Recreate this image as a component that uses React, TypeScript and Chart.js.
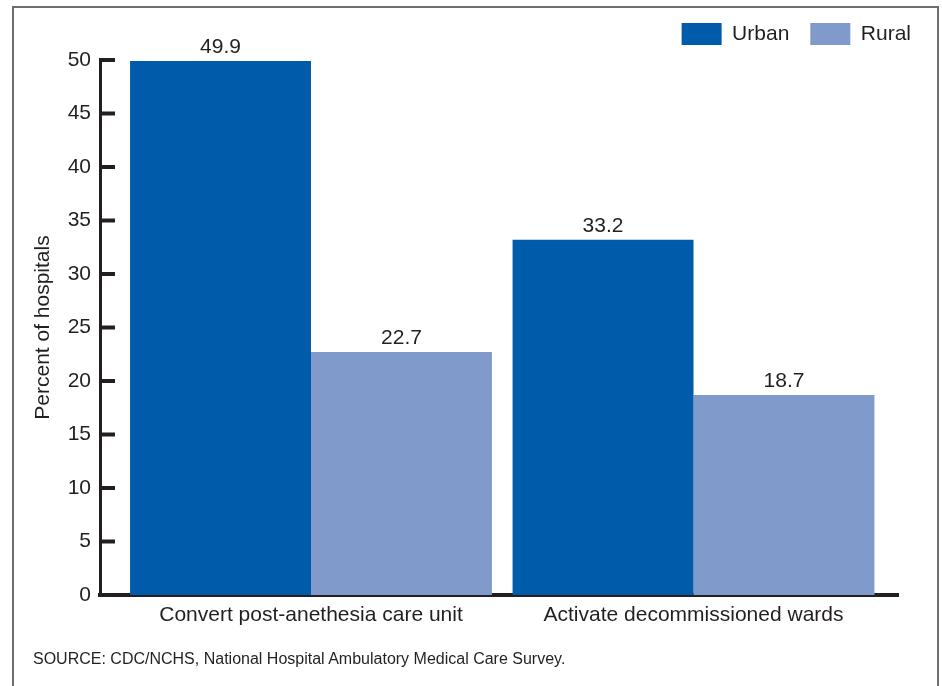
import { useEffect, useRef } from "react";
import { Chart, registerables } from "chart.js";

Chart.register(...registerables);

// ---- data ----
const categories = ["Convert post-anethesia care unit", "Activate decommissioned wards"];
const seriesNames = ["Urban", "Rural"];
const urbanValues = [49.9, 33.2];
const ruralValues = [22.7, 18.7];
const yTickValues = [0, 5, 10, 15, 20, 25, 30, 35, 40, 45, 50];
const yAxisTitle = "Percent of hospitals";
const sourceNote = "SOURCE: CDC/NCHS, National Hospital Ambulatory Medical Care Survey.";

// ---- styles ----
const FONT = '"Liberation Sans", Arial, Helvetica, sans-serif';
const INK = "#231f20";
const URBAN = "#005baa";
const RURAL = "#7f9acb";

const axisTickMarks = {
  id: "axisTickMarks",
  afterDraw(chart: any) {
    const y = chart.scales.y;
    const ctx = chart.ctx;
    const left = chart.chartArea.left;
    ctx.save();
    ctx.strokeStyle = INK;
    ctx.lineWidth = 4;
    y.ticks.forEach((t: any) => {
      const py = y.getPixelForValue(t.value);
      ctx.beginPath();
      ctx.moveTo(left - 1, py);
      ctx.lineTo(left + 15, py);
      ctx.stroke();
    });
    ctx.restore();
  },
};

const valueLabels = {
  id: "valueLabels",
  afterDatasetsDraw(chart: any) {
    const ctx = chart.ctx;
    ctx.save();
    ctx.font = `21px ${FONT}`;
    ctx.fillStyle = INK;
    ctx.textAlign = "center";
    ctx.textBaseline = "alphabetic";
    chart.data.datasets.forEach((ds: any, di: number) => {
      const meta = chart.getDatasetMeta(di);
      meta.data.forEach((el: any, i: number) => {
        const v = ds.data[i].y as number;
        ctx.fillText(v.toFixed(1), el.x, el.y - 8);
      });
    });
    ctx.restore();
  },
};

export default function App() {
  const canvasRef = useRef<HTMLCanvasElement | null>(null);

  useEffect(() => {
    if (!canvasRef.current) return;
    const font = { family: FONT, size: 21 };
    const chart = new Chart(canvasRef.current, {
      type: "bar",
      data: {
        datasets: [
          {
            label: seriesNames[0],
            data: categories.map((_, i) => ({ x: i, y: urbanValues[i] })),
            backgroundColor: URBAN,
            borderWidth: 0,
            categoryPercentage: 0.946,
            barPercentage: 1,
          },
          {
            label: seriesNames[1],
            data: categories.map((_, i) => ({ x: i, y: ruralValues[i] })),
            backgroundColor: RURAL,
            borderWidth: 0,
            categoryPercentage: 0.946,
            barPercentage: 1,
          },
        ],
      } as any,
      options: {
        animation: false,
        responsive: false,
        maintainAspectRatio: false,
        layout: { padding: { top: 2, right: 10, bottom: 0, left: 0 } },
        plugins: {
          legend: {
            position: "top",
            align: "end",
            labels: {
              boxWidth: 40,
              boxHeight: 22,
              padding: 21,
              color: INK,
              font,
            },
          },
          tooltip: { enabled: false },
        },
        scales: {
          x: {
            type: "linear",
            position: "bottom",
            min: -0.5516,
            max: 1.5346,
            offset: false,
            z: 1,
            afterBuildTicks: (s: any) => {
              s.ticks = categories.map((_, i) => ({ value: i }));
            },
            afterFit: (s: any) => {
              s.height = 91;
            },
            ticks: {
              callback: (v: any) => categories[v as number] ?? "",
              color: INK,
              font,
              padding: 8,
              maxRotation: 0,
              autoSkip: false,
            },
            grid: { display: false, drawTicks: false },
            border: { display: true, color: INK, width: 4 },
          },
          y: {
            type: "linear",
            min: 0,
            max: 50,
            z: 1,
            afterBuildTicks: (s: any) => {
              s.ticks = yTickValues.map((v) => ({ value: v }));
            },
            afterFit: (s: any) => {
              s.width = 100;
            },
            ticks: {
              callback: (v: any) => String(v),
              color: INK,
              font,
              padding: 9,
            },
            grid: { display: false, drawTicks: false },
            border: { display: true, color: INK, width: 3 },
            title: {
              display: true,
              text: yAxisTitle,
              color: INK,
              font,
              padding: { top: 31, bottom: 0 },
            },
          },
          xSpacer: {
            type: "linear",
            position: "top",
            display: true,
            ticks: { display: false },
            grid: { display: false, drawTicks: false },
            border: { display: false },
            afterFit: (s: any) => {
              s.height = 5;
            },
          },
          ySpacer: {
            type: "linear",
            position: "right",
            display: true,
            ticks: { display: false },
            grid: { display: false, drawTicks: false },
            border: { display: false },
            afterFit: (s: any) => {
              s.width = 34;
            },
          },
        },
      } as any,
      plugins: [axisTickMarks, valueLabels],
    });
    return () => chart.destroy();
  }, []);

  return (
    <div
      style={{
        position: "fixed",
        left: 0,
        top: 0,
        width: 942,
        height: 686,
        overflow: "hidden",
        background: "#ffffff",
      }}
    >
      <div
        style={{
          position: "absolute",
          left: 12,
          top: 6,
          width: 927,
          height: 720,
          boxSizing: "border-box",
          border: "2px solid #6d6e71",
        }}
      />
      <canvas
        ref={canvasRef}
        width={942}
        height={686}
        style={{ position: "absolute", left: 0, top: 0, width: 942, height: 686 }}
      />
      <div
        style={{
          position: "absolute",
          left: 33,
          top: 651,
          fontFamily: FONT,
          fontSize: 16,
          lineHeight: "16px",
          color: INK,
          whiteSpace: "nowrap",
        }}
      >
        {sourceNote}
      </div>
    </div>
  );
}
